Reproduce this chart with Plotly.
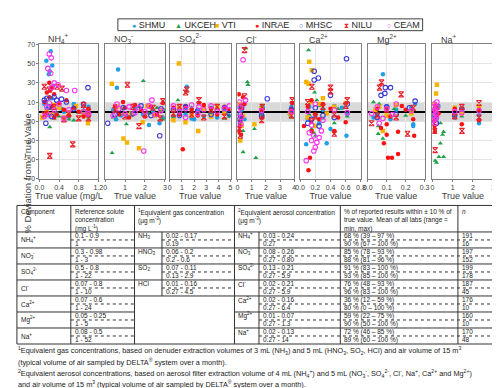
import plotly.graph_objects as go

W, H = 500, 388
FONT = "Arial, Liberation Sans, sans-serif"

# ---- panels ----
panel_keys = ["NH4", "NO3", "SO4", "Cl", "Ca", "Mg", "Na"]
panel_titles = ["NH<sub>4</sub><sup>+</sup>", "NO<sub>3</sub><sup>-</sup>", "SO<sub>4</sub><sup>2-</sup>",
                "Cl<sup>-</sup>", "Ca<sup>2+</sup>", "Mg<sup>2+</sup>", "Na<sup>+</sup>"]
x_max = [1.2, 3, 5, 4, 0.8, 0.3, 3]
x_tickvals = [[0, 0.4, 0.8, 1.2], [0, 1, 2, 3], [0, 1, 2, 3, 4, 5], [0, 1, 2, 3, 4],
              [0, 0.2, 0.4, 0.6, 0.8], [0, 0.1, 0.2, 0.3], [0, 1, 2, 3]]
x_ticktext = [["0.0", "0.4", "0.8", "1.2"], ["0", "1", "2", "3"], ["0", "1", "2", "3", "4", "5"],
              ["0", "1", "2", "3", "4"], ["0.0", "0.2", "0.4", "0.6", "0.8"],
              ["0.0", "0.1", "0.2", "0.3"], ["0", "1", "2", "3"]]
x_titles = ["True value (mg/L", "True value", "True value", "True value", "True value", "True value", "True value"]
y_tickvals = [70, 50, 30, 10, -10, -30, -50, -70]

# ---- labs: (panel, true value, % deviation) ----
SHMU = [("NH4", 0.23, 63), ("NH4", 0.14, 53), ("NH4", 0.26, 48), ("NH4", 0.19, 39), ("NH4", 0.21, 42),
        ("NH4", 0.25, 14), ("NH4", 0.3, 6), ("NH4", 0.15, 3), ("NH4", 0.5, 0), ("NH4", 0.9, -3),
        ("NH4", 1.0, 5), ("NH4", 0.7, 8), ("NH4", 0.35, -2), ("NH4", 0.6, -5), ("NH4", 0.2, -4),
        ("NH4", 0.1, 8), ("NH4", 0.45, 3), ("NH4", 0.28, 27),
        ("NO3", 0.65, 44), ("NO3", 0.59, 25), ("NO3", 2.2, -14), ("NO3", 2.73, -12), ("NO3", 0.4, 2),
        ("NO3", 0.8, -4), ("NO3", 1.1, -5), ("NO3", 1.5, 3), ("NO3", 1.9, -3), ("NO3", 2.4, 1),
        ("NO3", 2.9, -6), ("NO3", 0.55, -8),
        ("SO4", 1.4, 26), ("SO4", 0.3, -5), ("SO4", 0.8, 3), ("SO4", 1.3, -3), ("SO4", 1.8, -7),
        ("SO4", 2.3, 2), ("SO4", 2.8, -5), ("SO4", 3.4, 4), ("SO4", 3.9, -6), ("SO4", 4.5, 1),
        ("SO4", 4.9, -4), ("SO4", 2.0, -8),
        ("Cl", 0.1, 5), ("Cl", 0.2, -5), ("Cl", 0.3, 2), ("Cl", 0.5, -8), ("Cl", 1.7, -2), ("Cl", 1.8, 4),
        ("Cl", 3.7, -3), ("Cl", 3.8, 5), ("Cl", 0.15, -12),
        ("Ca", 0.08, -34), ("Ca", 0.35, -33), ("Ca", 0.61, -25), ("Ca", 0.4, -18), ("Ca", 0.12, 5),
        ("Ca", 0.2, -5), ("Ca", 0.3, 2), ("Ca", 0.45, 6), ("Ca", 0.62, -3), ("Ca", 0.25, -12),
        ("Ca", 0.1, -8), ("Ca", 0.55, 4),
        ("Mg", 0.08, 39), ("Mg", 0.24, -13), ("Mg", 0.24, -15), ("Mg", 0.05, -3), ("Mg", 0.1, 5),
        ("Mg", 0.15, 2), ("Mg", 0.23, 4), ("Mg", 0.25, 8), ("Mg", 0.03, -6), ("Mg", 0.12, -8),
        ("Na", 0.05, -5), ("Na", 0.1, 3), ("Na", 0.2, -8), ("Na", 1.1, -6), ("Na", 1.45, 2),
        ("Na", 2.3, -4), ("Na", 0.3, 6), ("Na", 2.3, -12)]

UKCEH = [("NH4", 0.21, -16), ("NH4", 0.12, -2), ("NH4", 0.3, -7), ("NH4", 0.5, -9), ("NH4", 0.7, -9),
         ("NH4", 0.6, -8), ("NH4", 0.9, 2), ("NH4", 1.0, -6), ("NH4", 0.2, 3), ("NH4", 0.4, -5),
         ("NH4", 0.8, -1), ("NH4", 0.15, 8),
         ("NO3", 1.92, 32), ("NO3", 1.07, -13), ("NO3", 0.35, -43), ("NO3", 0.4, -6), ("NO3", 0.9, 3),
         ("NO3", 1.3, -4), ("NO3", 1.7, 5), ("NO3", 2.2, -2), ("NO3", 2.6, 4), ("NO3", 2.9, -8),
         ("NO3", 2.95, 2),
         ("SO4", 1.35, 21), ("SO4", 0.67, 12), ("SO4", 0.3, -6), ("SO4", 0.8, -2), ("SO4", 1.8, 4),
         ("SO4", 2.3, -3), ("SO4", 2.8, 6), ("SO4", 3.4, -2), ("SO4", 3.9, 3), ("SO4", 4.5, -7),
         ("SO4", 4.9, -5),
         ("Cl", 0.6, 66), ("Cl", 0.7, 31), ("Cl", 0.75, 28), ("Cl", 0.4, -42), ("Cl", 1.3, -48),
         ("Cl", 1.2, -18), ("Cl", 0.2, -8), ("Cl", 0.4, -20), ("Cl", 0.3, 3), ("Cl", 1.7, 6),
         ("Cl", 3.8, -6), ("Cl", 1.75, -3),
         ("Ca", 0.11, 64), ("Ca", 0.19, 20), ("Ca", 0.45, -12), ("Ca", 0.15, -18), ("Ca", 0.18, -22),
         ("Ca", 0.2, -25), ("Ca", 0.12, -3), ("Ca", 0.25, 6), ("Ca", 0.3, -7), ("Ca", 0.5, 3),
         ("Ca", 0.62, -5), ("Ca", 0.22, 12),
         ("Mg", 0.055, -15), ("Mg", 0.055, -23), ("Mg", 0.08, -28), ("Mg", 0.06, 8), ("Mg", 0.1, -5),
         ("Mg", 0.14, 3), ("Mg", 0.2, -4), ("Mg", 0.24, 2), ("Mg", 0.03, 10),
         ("Na", 0.39, -33), ("Na", 0.32, -47), ("Na", 0.55, -47), ("Na", 0.13, -51), ("Na", 0.2, -53),
         ("Na", 0.5, -24), ("Na", 0.55, -21), ("Na", 0.1, -6), ("Na", 0.25, 4), ("Na", 1.1, -3),
         ("Na", 1.45, -5), ("Na", 2.3, 3), ("Na", 0.4, -12)]

VTI = [("NH4", 0.99, -12), ("NH4", 0.05, -6), ("NH4", 0.15, 0), ("NH4", 0.25, -3), ("NH4", 0.4, 4),
       ("NH4", 0.6, -1), ("NH4", 0.75, 6), ("NH4", 0.9, -3), ("NH4", 0.3, 7), ("NH4", 0.5, -6),
       ("NO3", 0.34, 29), ("NO3", 1.89, -11), ("NO3", 0.92, -28), ("NO3", 1.1, -32), ("NO3", 1.7, -38),
       ("NO3", 0.6, 5), ("NO3", 1.3, -2), ("NO3", 2.1, 6), ("NO3", 2.5, -4), ("NO3", 2.8, 2),
       ("SO4", 0.75, 50), ("SO4", 1.29, -11), ("SO4", 2.34, -20), ("SO4", 0.3, -9), ("SO4", 0.8, 4),
       ("SO4", 1.8, -4), ("SO4", 2.8, 3), ("SO4", 3.4, -5), ("SO4", 3.9, 6), ("SO4", 4.5, -2),
       ("Cl", 1.2, -13), ("Cl", 0.2, -30), ("Cl", 0.1, 8), ("Cl", 0.4, -4), ("Cl", 1.7, 3),
       ("Cl", 3.7, -2), ("Cl", 0.3, -15),
       ("Ca", 0.12, 52), ("Ca", 0.155, 43), ("Ca", 0.08, 31), ("Ca", 0.11, 29), ("Ca", 0.14, 10),
       ("Ca", 0.1, -6), ("Ca", 0.25, 8), ("Ca", 0.35, -2), ("Ca", 0.45, 5), ("Ca", 0.6, 9),
       ("Ca", 0.2, -15), ("Ca", 0.3, 14),
       ("Mg", 0.08, -20), ("Mg", 0.06, 5), ("Mg", 0.1, -4), ("Mg", 0.15, 7), ("Mg", 0.23, -2),
       ("Mg", 0.04, 2),
       ("Na", 0.22, 28), ("Na", 0.18, 19), ("Na", 0.05, 8), ("Na", 0.15, -3), ("Na", 1.1, 4),
       ("Na", 1.45, -2), ("Na", 2.3, 5)]

INRAE = [("NH4", 0.2, 30), ("NH4", 0.25, 25), ("NH4", 0.15, 20), ("NH4", 0.3, 18), ("NH4", 0.2, 15),
         ("NH4", 0.1, 10), ("NH4", 0.25, 5), ("NH4", 0.35, -3), ("NH4", 0.5, 2), ("NH4", 0.7, 4),
         ("NH4", 0.9, -5), ("NH4", 1.0, 3), ("NH4", 0.4, 9), ("NH4", 0.15, -1), ("NH4", 0.3, -6),
         ("NH4", 0.55, 12), ("NH4", 0.6, -4), ("NH4", 0.8, 0), ("NH4", 0.22, 22),
         ("NO3", 0.5, 6), ("NO3", 0.7, -3), ("NO3", 1.0, 4), ("NO3", 1.2, -6), ("NO3", 1.5, 7),
         ("NO3", 1.8, 2), ("NO3", 2.0, -5), ("NO3", 2.3, 5), ("NO3", 2.6, -3), ("NO3", 2.9, 9),
         ("NO3", 0.9, 10),
         ("SO4", 1.07, -39), ("SO4", 0.3, 4), ("SO4", 0.8, -3), ("SO4", 1.3, 6), ("SO4", 1.8, 2),
         ("SO4", 2.3, -4), ("SO4", 2.8, 7), ("SO4", 3.4, 3), ("SO4", 3.9, -3), ("SO4", 4.5, 5),
         ("SO4", 4.9, 2), ("SO4", 2.4, 9),
         ("Cl", 0.2, -10), ("Cl", 0.15, -15), ("Cl", 0.1, -20), ("Cl", 0.25, -24), ("Cl", 0.3, -5),
         ("Cl", 0.5, 8), ("Cl", 0.4, 15), ("Cl", 1.7, 2), ("Cl", 1.75, -6), ("Cl", 3.8, 3),
         ("Cl", 3.85, 9), ("Cl", 0.1, 18),
         ("Ca", 0.11, -61), ("Ca", 0.13, -48), ("Ca", 0.45, -20), ("Ca", 0.6, -11), ("Ca", 0.1, 5),
         ("Ca", 0.2, -3), ("Ca", 0.3, 8), ("Ca", 0.15, 12), ("Ca", 0.25, -8), ("Ca", 0.4, 3),
         ("Ca", 0.5, -6), ("Ca", 0.05, -15), ("Ca", 0.15, -20),
         ("Mg", 0.1, -13), ("Mg", 0.085, -33), ("Mg", 0.107, -48), ("Mg", 0.128, -48), ("Mg", 0.16, -44),
         ("Mg", 0.16, -21), ("Mg", 0.245, -25), ("Mg", 0.1, -24), ("Mg", 0.07, -17), ("Mg", 0.05, 3),
         ("Mg", 0.12, -5), ("Mg", 0.2, 2), ("Mg", 0.24, -8), ("Mg", 0.18, 6),
         ("Na", 1.45, -13), ("Na", 2.3, -9), ("Na", 0.1, -15), ("Na", 0.12, -20), ("Na", 0.08, -10),
         ("Na", 0.15, 5), ("Na", 0.2, -4), ("Na", 0.05, 2), ("Na", 1.1, 3), ("Na", 2.3, 2), ("Na", 0.3, -2)]

MHSC = [("NH4", 0.1, 12), ("NH4", 0.13, -12), ("NH4", 0.3, 15), ("NH4", 0.35, 12), ("NH4", 0.45, 13),
        ("NH4", 0.55, 10), ("NH4", 0.99, 25), ("NH4", 0.2, 5), ("NH4", 0.25, -5), ("NH4", 0.7, 3),
        ("NH4", 1.0, -3), ("NH4", 0.9, 8), ("NH4", 0.15, 14),
        ("NO3", 0.13, -12), ("NO3", 2.74, -25), ("NO3", 0.5, -3), ("NO3", 0.9, 4), ("NO3", 1.4, -2),
        ("NO3", 1.8, 6), ("NO3", 2.3, -4), ("NO3", 2.8, 3),
        ("SO4", 0.3, 2), ("SO4", 0.8, -4), ("SO4", 1.3, 5), ("SO4", 2.3, 1), ("SO4", 3.4, -3),
        ("SO4", 4.5, 4), ("SO4", 4.9, -2),
        ("Cl", 2.1, 13.5), ("Cl", 0.2, -3), ("Cl", 0.3, 5), ("Cl", 1.7, -4), ("Cl", 3.8, 2), ("Cl", 0.15, -8),
        ("Ca", 0.185, 42), ("Ca", 0.185, 33), ("Ca", 0.24, 35), ("Ca", 0.61, 55), ("Ca", 0.4, 17),
        ("Ca", 0.15, -8), ("Ca", 0.2, 4), ("Ca", 0.3, -4), ("Ca", 0.45, -6), ("Ca", 0.62, 8),
        ("Ca", 0.1, -12), ("Ca", 0.25, -15),
        ("Mg", 0.093, 25), ("Mg", 0.12, 25), ("Mg", 0.09, 19), ("Mg", 0.25, 11), ("Mg", 0.07, 17),
        ("Mg", 0.1, 5), ("Mg", 0.15, -3), ("Mg", 0.05, -6), ("Mg", 0.22, 4),
        ("Na", 0.1, -3), ("Na", 0.2, -12), ("Na", 0.05, -8), ("Na", 1.1, -4), ("Na", 1.45, 3)]

NILU = [("NH4", 0.1, 26), ("NH4", 0.36, 26), ("NH4", 0.46, 24), ("NH4", 0.21, -46), ("NH4", 0.68, -34),
        ("NH4", 0.1, -3), ("NH4", 0.3, 5), ("NH4", 0.6, -2), ("NH4", 0.8, -7), ("NH4", 0.9, 7),
        ("NH4", 1.0, 0), ("NH4", 0.5, -8), ("NH4", 0.2, 23), ("NH4", 1.0, -7),
        ("NO3", 1.12, 28), ("NO3", 1.7, -15), ("NO3", 2.76, -7), ("NO3", 2.9, 11), ("NO3", 0.5, 2),
        ("NO3", 1.0, -5), ("NO3", 1.4, 5), ("NO3", 2.0, -3), ("NO3", 2.4, 4),
        ("SO4", 1.3, 20), ("SO4", 2.4, 12), ("SO4", 0.3, -2), ("SO4", 0.8, 5), ("SO4", 1.8, -3),
        ("SO4", 2.8, -6), ("SO4", 3.4, 2), ("SO4", 3.9, 5), ("SO4", 4.5, -5), ("SO4", 1.4, 23),
        ("Cl", 0.5, 64), ("Cl", 0.5, 16), ("Cl", 0.2, -25), ("Cl", 0.15, -18), ("Cl", 1.7, -9),
        ("Cl", 3.86, 12), ("Cl", 0.3, 5), ("Cl", 3.8, -4), ("Cl", 1.75, 5),
        ("Ca", 0.155, 26), ("Ca", 0.4, 21), ("Ca", 0.45, -23), ("Ca", 0.15, -10), ("Ca", 0.3, 5),
        ("Ca", 0.45, -3), ("Ca", 0.6, 6), ("Ca", 0.62, 12), ("Ca", 0.2, -5), ("Ca", 0.1, 10), ("Ca", 0.4, 25),
        ("Mg", 0.073, 30.5), ("Mg", 0.062, 25), ("Mg", 0.176, 18), ("Mg", 0.02, -12), ("Mg", 0.21, -23),
        ("Mg", 0.1, 2), ("Mg", 0.05, -4), ("Mg", 0.24, 4), ("Mg", 0.15, -6),
        ("Na", 1.46, -20), ("Na", 0.13, -40), ("Na", 2.3, 9), ("Na", 0.1, -20), ("Na", 0.2, 5),
        ("Na", 1.1, -5), ("Na", 1.45, 5), ("Na", 2.3, -6), ("Na", 0.05, -12)]

CEAM = [("NH4", 0.2, 60), ("NH4", 0.24, 56), ("NH4", 0.17, 45), ("NH4", 0.23, 40), ("NH4", 0.3, 30),
        ("NH4", 0.38, 28), ("NH4", 0.55, 22), ("NH4", 0.72, 22), ("NH4", 0.25, 25), ("NH4", 0.15, 5),
        ("NH4", 0.2, -3), ("NH4", 0.4, 8), ("NH4", 0.6, 2), ("NH4", 0.9, 0), ("NH4", 1.0, -2),
        ("NH4", 0.3, 2), ("NH4", 0.1, -5), ("NH4", 0.5, -7), ("NH4", 0.2, 9),
        ("NO3", 2.35, 12), ("NO3", 1.94, -41), ("NO3", 0.4, -4), ("NO3", 0.7, 3), ("NO3", 1.0, -2),
        ("NO3", 1.2, 5), ("NO3", 1.5, -1), ("NO3", 1.7, 4), ("NO3", 2.0, 0), ("NO3", 2.2, 6),
        ("NO3", 2.5, -3), ("NO3", 2.8, 1), ("NO3", 0.6, 8),
        ("SO4", 0.3, 6), ("SO4", 0.8, 0), ("SO4", 1.3, 3), ("SO4", 1.8, 7), ("SO4", 2.3, -2),
        ("SO4", 2.4, 5), ("SO4", 2.8, 2), ("SO4", 3.4, 6), ("SO4", 3.9, 0), ("SO4", 4.5, 3),
        ("SO4", 4.9, 6), ("SO4", 1.3, -6),
        ("Cl", 0.4, 54), ("Cl", 0.57, 12), ("Cl", 0.1, -2), ("Cl", 0.2, 4), ("Cl", 0.3, -6),
        ("Cl", 1.7, 1), ("Cl", 3.8, 0), ("Cl", 0.15, 10), ("Cl", 0.25, -13),
        ("Ca", 0.08, -51), ("Ca", 0.18, -41), ("Ca", 0.2, -37), ("Ca", 0.22, -32), ("Ca", 0.25, -27),
        ("Ca", 0.15, -30), ("Ca", 0.12, -22), ("Ca", 0.18, -25), ("Ca", 0.1, 0), ("Ca", 0.2, 8),
        ("Ca", 0.3, -9), ("Ca", 0.45, 2), ("Ca", 0.62, -1), ("Ca", 0.15, -14), ("Ca", 0.28, -20),
        ("Mg", 0.02, -2), ("Mg", 0.05, 5), ("Mg", 0.08, -7), ("Mg", 0.1, 3), ("Mg", 0.13, -3),
        ("Mg", 0.15, 8), ("Mg", 0.23, 1), ("Mg", 0.06, -12),
        ("Na", 0.05, 5), ("Na", 0.08, -4), ("Na", 0.1, 8), ("Na", 0.12, -8), ("Na", 0.15, 2),
        ("Na", 0.18, -2), ("Na", 0.2, -6), ("Na", 0.25, 4), ("Na", 0.07, 0), ("Na", 0.03, -9),
        ("Na", 0.13, -12), ("Na", 0.22, 10), ("Na", 1.1, 0), ("Na", 1.45, -1), ("Na", 2.3, 1)]

lab_names = ["SHMU", "UKCEH", "VTI", "INRAE", "MHSC", "NILU", "CEAM"]
lab_data = [SHMU, UKCEH, VTI, INRAE, MHSC, NILU, CEAM]
lab_colors = ["#1f9fe5", "#20a049", "#f6b400", "#ff1010", "#3a3ad6", "#e8232a", "#ff33ee"]
lab_symbols = ["circle", "triangle-up", "square", "circle", "circle-open", "hourglass-open", "circle-open"]
lab_glyphs = ["●", "▲", "■", "●", "○", "⧗", "○"]

# ---- table ----
ref_conc = [("0.1 - 0.9", "1"), ("0.3 - 0.98", "1 - 3"), ("0.5 - 0.8", "1 - 22"), ("0.07 - 0.8", "1 - 10"),
            ("0.07 - 0.6", "1 - 24"), ("0.05 - 0.25", "1 - 5"), ("0.08 - 0.5", "1 - 52")]
gas_names = ["NH<sub>3</sub>", "HNO<sub>3</sub>", "SO<sub>2</sub>", "HCl"]
gas_conc = [("0.02 - 0.17", "0.19"), ("0.06 - 0.2", "0.2 - 0.6"), ("0.07 - 0.11", "0.13 - 2.9"),
            ("0.01 - 0.16", "0.27 - 4.5")]
aer_conc = [("0.03 - 0.24", "0.27"), ("0.08 - 0.26", "0.27 - 0.80"), ("0.13 - 0.21", "0.27 - 5.9"),
            ("0.02 - 0.21", "0.27 - 5.9"), ("0.02 - 0.16", "0.27 - 6.4"), ("0.01 - 0.07", "0.27 - 1.3"),
            ("0.02 - 0.13", "0.27 - 14")]
pct_within = [("68 % (39 – 97 %)", "90 % (67 – 100 %)"), ("85 % (78 – 93 %)", "88 % (81 – 96 %)"),
              ("91 % (83 – 100 %)", "93 % (85 – 100 %)"), ("76 % (48 – 93 %)", "96 % (83 – 100 %)"),
              ("36 % (12 – 59 %)", "80 % (0 – 100 %)"), ("59 % (22 – 75 %)", "90 % (50 – 100 %)"),
              ("72 % (46 – 85 %)", "89 % (60 – 100 %)")]
n_results = [(191, 16), (197, 152), (199, 178), (187, 45), (176, 10), (160, 10), (170, 48)]
headers = ["Component", "Reference solute<br>concentration<br>(mg L<sup>-1</sup>)",
           "<sup>1</sup>Equivalent gas concentration<br>(µg m<sup>-3</sup>)",
           "<sup>2</sup>Equivalent aerosol concentration<br>(µg m<sup>-3</sup>)",
           "% of reported results within ± 10 % of<br>true value. Mean of all labs (range =<br>min, max)",
           "<i>n</i>"]
footnotes = [
    "<sup>1</sup>Equivalent gas concentrations, based on denuder extraction volumes of 3 mL (NH<sub>3</sub>) and 5 mL (HNO<sub>3</sub>, SO<sub>2</sub>, HCl) and air volume of 15 m<sup>3</sup>",
    "(typical volume of air sampled by DELTA<sup>®</sup> system over a month).",
    "<sup>2</sup>Equivalent aerosol concentrations, based on aerosol filter extraction volume of 4 mL (NH<sub>4</sub><sup>+</sup>) and 5 mL (NO<sub>3</sub><sup>-</sup>, SO<sub>4</sub><sup>2-</sup>, Cl<sup>-</sup>, Na<sup>+</sup>, Ca<sup>2+</sup> and Mg<sup>2+</sup>)",
    "and air volume of 15 m<sup>3</sup> (typical volume of air sampled by DELTA<sup>®</sup> system over a month).",
]


def X(px):
    return px / W


def Y(py):
    return 1 - py / H


def ax_id(i, letter):
    return letter if i == 0 else f"{letter}{i + 1}"


panel_px = [(27, 87), (94, 155), (160, 222), (229, 287), (293, 355), (362, 420), (428, 490)]
plot_top, plot_bottom = 33, 170

fig = go.Figure()
shapes, annotations = [], []

for li, name in enumerate(lab_names):
    pts = lab_data[li]
    open_sym = lab_symbols[li].endswith("open")
    for pi, key in enumerate(panel_keys):
        sel = [p for p in pts if p[0] == key]
        fig.add_trace(go.Scatter(
            x=[p[1] for p in sel], y=[p[2] for p in sel], mode="markers", name=name,
            showlegend=False, xaxis=ax_id(pi, "x"), yaxis=ax_id(pi, "y"),
            marker=dict(symbol=lab_symbols[li], color=lab_colors[li],
                        size=4.5 if lab_symbols[li] != "hourglass-open" else 5,
                        line=dict(width=1.1 if open_sym else 0, color=lab_colors[li])),
        ))

layout_axes = {}
for i in range(7):
    sfx = "" if i == 0 else str(i + 1)
    l, r = panel_px[i]
    layout_axes[f"xaxis{sfx}"] = dict(
        domain=[X(l), X(r)], range=[0, x_max[i]], anchor=ax_id(i, "y"),
        tickvals=x_tickvals[i], ticktext=x_ticktext[i], tickfont=dict(size=7, color="#404040"),
        ticks="outside", ticklen=2, tickcolor="#808080",
        showgrid=True, gridcolor="#e4e4e4", gridwidth=1, zeroline=False,
        showline=True, linecolor="#808080", linewidth=1, mirror=True,
        title=dict(text=x_titles[i], font=dict(size=9, color="#404040"), standoff=1),
    )
    layout_axes[f"yaxis{sfx}"] = dict(
        domain=[Y(plot_bottom), Y(plot_top)], range=[-70, 70], anchor=ax_id(i, "x"),
        tickvals=y_tickvals, showticklabels=(i == 0), tickfont=dict(size=7, color="#404040"),
        ticks="outside" if i == 0 else "", ticklen=2, tickcolor="#808080",
        showgrid=True, gridcolor="#e4e4e4", gridwidth=1,
        zeroline=True, zerolinecolor="black", zerolinewidth=1.6,
        showline=True, linecolor="#808080", linewidth=1, mirror=True,
    )
    # +/- 10 % band
    shapes.append(dict(type="rect", xref=ax_id(i, "x") + " domain", yref=ax_id(i, "y"),
                       x0=0, x1=1, y0=-10, y1=10,
                       fillcolor="#d9d9d9", line=dict(width=0), layer="below"))
    annotations.append(dict(text=panel_titles[i], x=X(l + 7), y=Y(27), xref="paper", yref="paper",
                            xanchor="left", yanchor="middle", showarrow=False,
                            font=dict(size=9, color="#404040")))

annotations.append(dict(text="% Deviation from True Value", textangle=-90, x=X(7), y=Y(101),
                        xref="paper", yref="paper", showarrow=False, font=dict(size=9.5, color="#404040")))

# legend (manual, boxed)
shapes.append(dict(type="rect", xref="paper", yref="paper", x0=X(107), x1=X(418), y0=Y(19), y1=Y(7),
                   line=dict(color="#404040", width=1), fillcolor="white"))
legend_x = [119, 163, 204, 245, 290, 336, 380]
for li, name in enumerate(lab_names):
    annotations.append(dict(
        text=f"<span style='color:{lab_colors[li]};font-size:7px'>{lab_glyphs[li]}</span> {name}",
        x=X(legend_x[li]), y=Y(13), xref="paper", yref="paper", xanchor="left", yanchor="middle",
        showarrow=False, font=dict(size=9, color="#262626")))

# table
line_c = "#333333"
cols = [4, 59, 124, 152, 226, 251, 334, 454, 495]
t_top, h_bot, grp = 197, 224, 16.3
n_grp = len(panel_keys)
t_bot = h_bot + n_grp * grp
gas_rows = len(gas_names)


def hline(x0, x1, y, dash=None):
    shapes.append(dict(type="line", xref="paper", yref="paper", x0=X(x0), x1=X(x1), y0=Y(y), y1=Y(y),
                       line=dict(color=line_c, width=1, dash=dash)))


def vline(x, y0, y1):
    shapes.append(dict(type="line", xref="paper", yref="paper", x0=X(x), x1=X(x), y0=Y(y0), y1=Y(y1),
                       line=dict(color=line_c, width=1)))


def txt(s, px, py, size=6.5, yanchor="middle"):
    annotations.append(dict(text=s, x=X(px), y=Y(py), xref="paper", yref="paper", xanchor="left",
                            yanchor=yanchor, showarrow=False, align="left",
                            font=dict(size=size, color="#1a1a1a")))


hline(cols[0], cols[-1], t_top)
hline(cols[0], cols[-1], h_bot)
for c in [cols[0], cols[1], cols[2], cols[4], cols[6], cols[7], cols[8]]:
    vline(c, t_top, t_bot)
vline(cols[3], h_bot, h_bot + gas_rows * grp)
vline(cols[5], h_bot, t_bot)

head_x = [cols[0], cols[1], cols[2], cols[4], cols[6], cols[7]]
for hx, ht in zip(head_x, headers):
    txt(ht, hx + 2, t_top + 1, size=6.5, yanchor="top")

for g in range(n_grp):
    top = h_bot + g * grp
    mid = top + grp / 2
    bot = top + grp
    r1, r2 = top + grp / 4, top + 3 * grp / 4
    if g < gas_rows or g == n_grp - 1:
        hline(cols[0], cols[-1], bot)
    else:
        hline(cols[0], cols[2], bot)
        hline(cols[4], cols[-1], bot)
    # dotted split inside each group
    hline(cols[1], cols[2], mid, "dot")
    if g < gas_rows:
        hline(cols[3], cols[4], mid, "dot")
    hline(cols[5], cols[-1], mid, "dot")

    txt(panel_titles[g], cols[0] + 2, mid)
    txt(ref_conc[g][0], cols[1] + 2, r1)
    txt(ref_conc[g][1], cols[1] + 2, r2)
    if g < gas_rows:
        txt(gas_names[g], cols[2] + 2, r1)
        txt(gas_conc[g][0], cols[3] + 2, r1)
        txt(gas_conc[g][1], cols[3] + 2, r2)
    txt(panel_titles[g], cols[4] + 2, r1)
    txt(aer_conc[g][0], cols[5] + 2, r1)
    txt(aer_conc[g][1], cols[5] + 2, r2)
    txt(pct_within[g][0], cols[6] + 2, r1)
    txt(pct_within[g][1], cols[6] + 2, r2)
    txt(str(n_results[g][0]), cols[7] + 2, r1)
    txt(str(n_results[g][1]), cols[7] + 2, r2)

for k, fn in enumerate(footnotes):
    txt(fn, 3, t_bot + 7 + k * 11.3, size=7.3)

fig.update_layout(
    width=W, height=H, autosize=False,
    margin=dict(l=0, r=0, t=0, b=0),
    paper_bgcolor="white", plot_bgcolor="white",
    font=dict(family=FONT, color="#404040"),
    shapes=shapes, annotations=annotations, showlegend=False,
    **layout_axes,
)

fig.write_html("out.html")
